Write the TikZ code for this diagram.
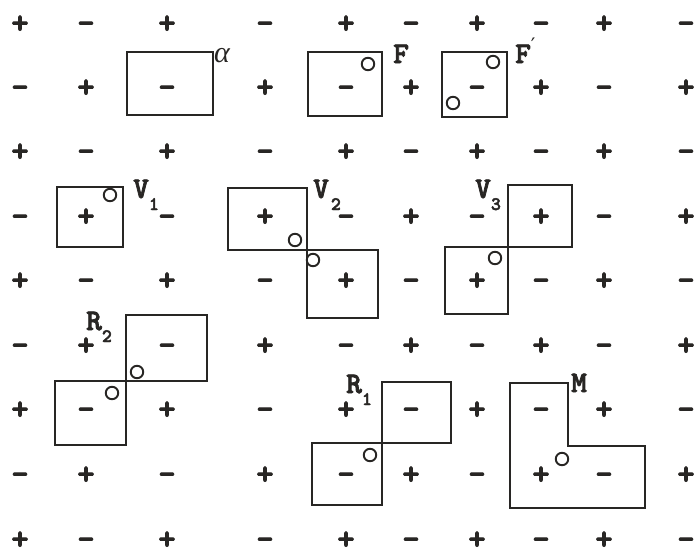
\documentclass[tikz,border=0pt]{standalone}
\usepackage{fontspec}
\IfFontExistsTF{lmmonolt10-bold.otf}
  {\newfontfamily\tyf[FakeBold=2.5]{lmmonolt10-bold.otf}}
  {\newfontfamily\tyf{Liberation Mono Bold}}
\newfontfamily\greekf{Liberation Serif}
\newfontfamily\symf{DejaVu Serif}
\definecolor{ink}{RGB}{40,38,36}
\newcommand\lbsub[1]{\raisebox{-12pt}{\fontsize{19}{19}\selectfont #1}}
\begin{document}
\begin{tikzpicture}[x=1pt,y=-1pt,
  sign/.style={font=\tyf\fontsize{33}{33}\selectfont, text=ink, inner sep=0pt, anchor=base, yshift=-8.25pt},
  lab/.style={font=\tyf\fontsize{30}{30}\selectfont, text=ink, inner sep=0pt, anchor=base west},
  box/.style={draw=ink, line width=2.8pt, line join=miter},
  hole/.style={draw=ink, line width=1.9pt, circle, minimum size=12.5pt, inner sep=0pt}]
\useasboundingbox (0,0) rectangle (695,555);
% grid of signs
\foreach \y [count=\i] in {25,89,153,218,282,347,411,476,541} {
  \foreach \x [count=\j] in {20,86,167,265,346,411,477,541,604,686} {
    \pgfmathtruncatemacro\sgn{mod(\i+\j,2)}
    \ifnum\sgn=0
      \node[sign] (s-\i-\j) at (\x,\y) {+};
    \else
      \node[sign] (s-\i-\j) at (\x,\y) {–};
    \fi
  }
}
% boxes
\draw[box] (127,52) rectangle (213,115);
\draw[box] (308,52) rectangle (382,116);
\draw[box] (442,52) rectangle (507,117);
\draw[box] (57,187) rectangle (123,247);
\draw[box] (228,188) rectangle (307,250);
\draw[box] (307,250) rectangle (378,318);
\draw[box] (508,185) rectangle (572,247);
\draw[box] (445,247) rectangle (508,314);
\draw[box] (126,315) rectangle (207,381);
\draw[box] (55,381) rectangle (126,445);
\draw[box] (382,382) rectangle (451,443);
\draw[box] (312,443) rectangle (382,505);
\draw[box] (510,383) -- (568,383) -- (568,446) -- (645,446) -- (645,508) -- (510,508) -- cycle;
% holes
\node[hole] (hF)  at (368,64) {};
\node[hole] (hFa) at (493,62) {};
\node[hole] (hFb) at (453,103) {};
\node[hole] (hV1) at (110,195) {};
\node[hole] (hV2a) at (295,240) {};
\node[hole] (hV2b) at (313,260) {};
\node[hole] (hV3) at (495,258) {};
\node[hole] (hR2a) at (137,372) {};
\node[hole] (hR2b) at (112,393) {};
\node[hole] (hR1) at (370,455) {};
\node[hole] (hM) at (562,459) {};
% labels
\node[lab, font=\greekf\itshape\fontsize{30}{30}\selectfont] (la) at (214,62) {α};
\node[lab] (lF) at (393,63) {F};
\node[lab] (lFp) at (515,63) {F\kern0pt\raisebox{11pt}{\symf\fontsize{20}{20}\selectfont ′}};
\node[lab] (lV1) at (133,198) {V\lbsub{1}};
\node[lab] (lV2) at (313,198) {V\kern2pt\lbsub{2}};
\node[lab] (lV3) at (475,198) {V\lbsub{3}};
\node[lab] (lR2) at (86,330) {R\lbsub{2}};
\node[lab] (lR1) at (346,393) {R\lbsub{1}};
\node[lab] (lM) at (571,392) {M};
\end{tikzpicture}
\end{document}
